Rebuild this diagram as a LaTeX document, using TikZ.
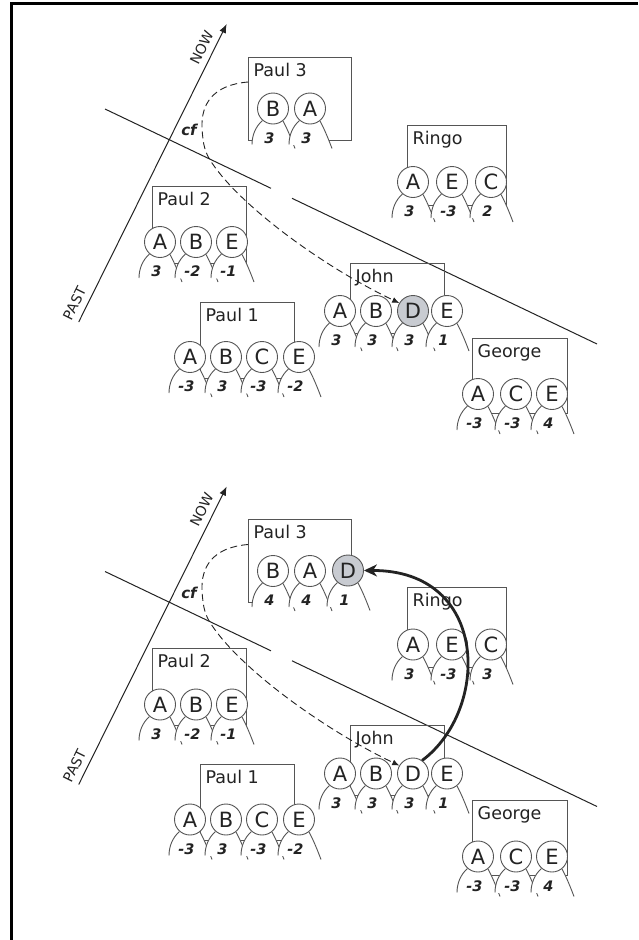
\documentclass[tikz,border=0pt]{standalone}
\usepackage{fontspec}
\setmainfont{DejaVu Sans}
\usetikzlibrary{arrows.meta}
\definecolor{ink}{RGB}{35,35,35}
\definecolor{edge}{RGB}{85,85,85}
\definecolor{dgray}{RGB}{200,203,209}
\tikzset{
  ball/.style={circle, draw=edge, line width=0.9pt, fill=white, minimum size=31pt, inner sep=0pt, text=ink, font=\fontsize{21}{21}\selectfont},
  leg/.style={draw=edge, line width=0.9pt},
  num/.style={inner sep=0pt, text=ink, font=\fontsize{14.5}{15}\selectfont\bfseries\itshape},
  wbox/.style={draw=edge, line width=1pt},
  wlabel/.style={anchor=base west, inner sep=0pt, text=ink, font=\fontsize{17.5}{17.5}\selectfont},
  axisline/.style={draw=ink, line width=1pt},
  axislabel/.style={rotate=63.6, inner sep=0pt, text=ink, font=\fontsize{14}{14}\selectfont},
  cflabel/.style={inner sep=0pt, text=ink, font=\fontsize{15}{15}\selectfont\bfseries\itshape},
  sepline/.style={draw=ink, line width=1pt},
  cfpath/.style={draw=ink, line width=0.9pt, dash pattern=on 7pt off 4pt},
  jump/.style={draw=ink, line width=2.8pt, -{Stealth[length=13pt,width=12pt,inset=4pt]}},
}
% name, x, y, letter, number, fill
\newcommand{\wball}[6]{%
  \fill[white] ({#2-10.5},{#3+12}) .. controls ({#2-17.5},{#3+18}) and ({#2-21},{#3+27}) .. ({#2-21},{#3+36}) -- ({#2+22},{#3+40}) .. controls ({#2+19},{#3+32}) and ({#2+14},{#3+19.5}) .. ({#2+10},{#3+12.5}) -- cycle;
  \draw[leg] ({#2-10.5},{#3+12}) .. controls ({#2-17.5},{#3+18}) and ({#2-21},{#3+27}) .. ({#2-21},{#3+36});
  \draw[leg] ({#2+10},{#3+12.5}) .. controls ({#2+14},{#3+19.5}) and ({#2+19},{#3+32}) .. ({#2+22},{#3+40});
  \node[ball, fill=#6] (#1) at (#2,#3) {#4};
  \node[num] (#1n) at ({#2-3.5},{#3+29.5}) {#5};
}
% prefix, John D fill, Ringo C number
\newcommand{\panel}[3]{%
  \coordinate (#1past) at (78.7,322);
  \coordinate (#1now) at (226.7,24);
  \draw[axisline, -{Latex[length=9pt,width=7pt]}] (#1past) -- (#1now);
  \node[axislabel] (#1NOW) at (201.7,47.4) {NOW};
  \node[axislabel] (#1PAST) at (74.5,303.5) {PAST};
  \coordinate (#1s1) at (105,109);
  \coordinate (#1s2) at (271,188.3);
  \coordinate (#1s3) at (292,198.3);
  \coordinate (#1s4) at (597,344);
  \draw[sepline] (#1s1) -- (#1s2);
  \draw[sepline] (#1s3) -- (#1s4);
  \node[cflabel] (#1cf) at (189,130) {cf};
  % Paul 3 box
  \draw[wbox] (248,57) rectangle (351,140);
  \node[wlabel] (#1P3l) at (253.5,76) {Paul 3};
  % Ringo
  \draw[wbox] (407,125) rectangle (506,205);
  \node[wlabel] (#1Rl) at (412.5,144) {Ringo};
  \wball{#1RA}{413}{182}{A}{3}{white}
  \wball{#1RE}{452}{182}{E}{-3}{white}
  \wball{#1RC}{491}{182}{C}{#3}{white}
  % Paul 2
  \draw[wbox] (152,186) rectangle (246,263);
  \node[wlabel] (#1P2l) at (157.5,205) {Paul 2};
  \wball{#1P2A}{160}{242}{A}{3}{white}
  \wball{#1P2B}{196}{242}{B}{-2}{white}
  \wball{#1P2E}{232}{242}{E}{-1}{white}
  % Paul 1
  \draw[wbox] (200,302) rectangle (294,378);
  \node[wlabel] (#1P1l) at (205.5,321) {Paul 1};
  \wball{#1P1A}{190}{357}{A}{-3}{white}
  \wball{#1P1B}{226}{357}{B}{3}{white}
  \wball{#1P1C}{262}{357}{C}{-3}{white}
  \wball{#1P1E}{299}{357}{E}{-2}{white}
  % John
  \draw[wbox] (350,263) rectangle (444,333);
  \node[wlabel] (#1Jl) at (355.5,282) {John};
  \wball{#1JA}{340}{311}{A}{3}{white}
  \wball{#1JB}{376}{311}{B}{3}{white}
  \wball{#1JD}{413}{311}{D}{3}{#2}
  \wball{#1JE}{447}{311}{E}{1}{white}
  % George
  \draw[wbox] (472,338) rectangle (567,413);
  \node[wlabel] (#1Gl) at (477.5,357) {George};
  \wball{#1GA}{478}{394}{A}{-3}{white}
  \wball{#1GC}{516}{394}{C}{-3}{white}
  \wball{#1GE}{552}{394}{E}{4}{white}
  % counterfactual path
  \coordinate (#1d0) at (248,82);
  \draw[cfpath, -{Latex[length=7pt,width=6pt]}] (#1d0) .. controls (212,85) and (201,105) .. (202,128) .. controls (203,145) and (205,153) .. (212,163) .. controls (240,205) and (320,265) .. (#1JD.150);
}
\begin{document}
\begin{tikzpicture}[x=1pt, y=-1pt]
\useasboundingbox (0,0) rectangle (638,940);
\fill[white] (0,0) rectangle (638,940);
\draw[line width=3pt, black] (11.5,940) -- (11.5,3.5) -- (638,3.5);
% top panel
\panel{t}{dgray}{2}
\wball{tP3B}{273}{108.5}{B}{3}{white}
\wball{tP3A}{310}{108.5}{A}{3}{white}
% bottom panel
\begin{scope}[yshift=-462.5pt]
\panel{b}{white}{3}
\wball{bP3B}{273}{108.5}{B}{4}{white}
\wball{bP3A}{310}{108.5}{A}{4}{white}
\wball{bP3D}{348}{108}{D}{1}{dgray}
\draw[jump] (bJD.55) .. controls (490,247.5) and (490,107.5) .. (bP3D.east);
\end{scope}
\end{tikzpicture}
\end{document}
